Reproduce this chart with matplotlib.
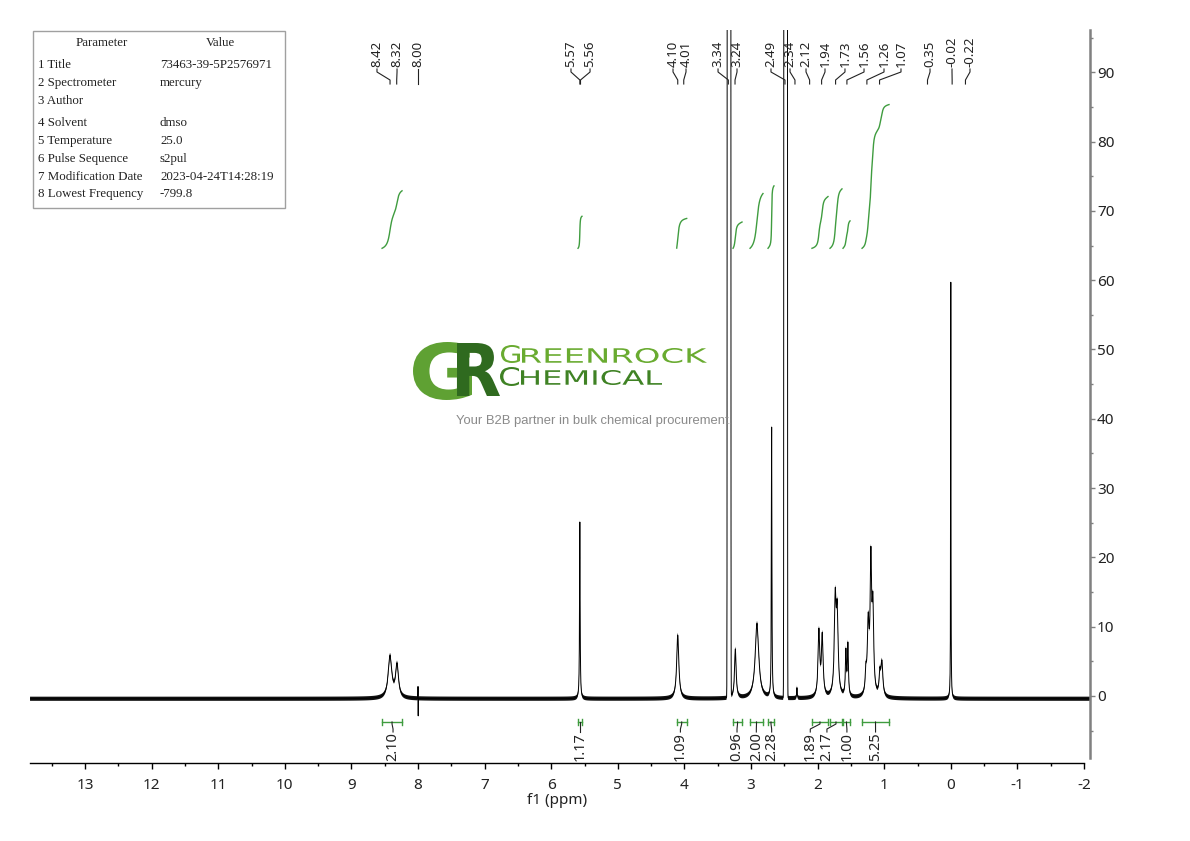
import numpy as np
import matplotlib
matplotlib.use("Agg")
import matplotlib.pyplot as plt
from matplotlib.textpath import TextPath
from matplotlib.patches import PathPatch, Rectangle
from matplotlib.font_manager import FontProperties
from matplotlib.transforms import Affine2D, blended_transform_factory
from matplotlib.ticker import MultipleLocator

plt.rcParams['axes.unicode_minus'] = False

# ---------------- data ----------------
# resolved signals: position (ppm), top value on the intensity scale, half width (ppm)
peak_ppm = [8.42, 8.315, 5.57, 4.10, 3.235, 2.91, 2.69, 2.31, 1.98, 1.93, 1.735, 1.705,
            1.575, 1.545, 1.275, 1.24, 1.20, 1.17, 1.065, 1.035, 0.00]
peak_top = [5.9, 4.8, 25.1, 8.8, 6.8, 10.5, 38.8, 1.2, 9.8, 9.2, 15.6, 13.9,
            6.9, 7.8, 4.9, 12.1, 21.6, 15.0, 4.2, 5.2, 59.7]
peak_hw = [0.032, 0.026, 0.005, 0.019, 0.014, 0.032, 0.0045, 0.005, 0.015, 0.015, 0.016, 0.016,
           0.009, 0.009, 0.011, 0.016, 0.013, 0.014, 0.013, 0.017, 0.0028]
# off-scale solvent signals (water, DMSO)
solvent_ppm = [3.33, 2.48]
solvent_top = [1.0e6, 1.0e6]
solvent_sigma = [0.0065, 0.0065]
# artefact spike near 8.00 ppm
spike_ppm = [8.000, 7.997]
spike_amp = [1.8, -2.6]
baseline_level = -0.4
noise_half = 0.3

# peak labels at the top
label_txt = ["8.42", "8.32", "8.00", "5.57", "5.56", "4.10", "4.01", "3.34", "3.24", "2.49",
             "2.34", "2.12", "1.94", "1.73", "1.56", "1.26", "1.07", "0.35", "-0.02", "-0.22"]
label_pos = [8.616, 8.315, 8.0, 5.703, 5.417, 4.171, 3.976, 3.495, 3.21, 2.70,
             2.414, 2.174, 1.889, 1.589, 1.303, 1.003, 0.748, 0.312, -0.018, -0.288]

# integrals
int_from = [8.540, 5.598, 4.116, 3.270, 3.015, 2.745, 2.085, 1.814, 1.619, 1.333]
int_to = [8.240, 5.538, 3.966, 3.135, 2.820, 2.655, 1.844, 1.634, 1.513, 0.928]
int_val = ["2.10", "1.17", "1.09", "0.96", "2.00", "2.28", "1.89", "2.17", "1.00", "5.25"]
int_label_pos = [8.375, 5.568, 4.06, 3.21, 2.92, 2.69, 2.11, 1.86, 1.56, 1.13]
int_base = 64.6
int_scale = 3.95

# parameter table
param_names = ["1 Title", "2 Spectrometer", "3 Author", "4 Solvent", "5 Temperature",
               "6 Pulse Sequence", "7 Modification Date", "8 Lowest Frequency"]
param_values = ["73463-39-5P2576971", "mercury", "", "dmso", "25.0", "s2pul",
                "2023-04-24T14:28:19", "-799.8"]

# axis ranges
x_left, x_right = 13.826, -2.09
y_bottom, y_top = -9.67, 96.1

# ---------------- build spectrum ----------------
ppm = np.arange(x_right, x_left, 0.0005)


def lor(x, c, w):
    return w ** 2 / ((x - c) ** 2 + w ** 2)


M = np.array([[lor(pi, pj, wj) for pj, wj in zip(peak_ppm, peak_hw)] for pi in peak_ppm])
amps = np.clip(np.linalg.solve(M, np.array(peak_top) - baseline_level), 0, None)

sig = np.zeros_like(ppm)
for c, a, w in zip(peak_ppm, amps, peak_hw):
    sig += a * lor(ppm, c, w)
solv = np.zeros_like(ppm)
for c, a, s in zip(solvent_ppm, solvent_top, solvent_sigma):
    solv += a * np.exp(-(ppm - c) ** 2 / (2 * s ** 2))
spk = np.zeros_like(ppm)
for c, a in zip(spike_ppm, spike_amp):
    spk += a * lor(ppm, c, 0.0006)
spec = sig + solv + spk + baseline_level

# ---------------- figure ----------------
W, H = 1190, 841
fig = plt.figure(figsize=(W / 100, H / 100), dpi=100, facecolor='white')
ax = fig.add_axes([30 / W, 1 - 763 / H, 1060 / W, 733 / H])
ax.set_facecolor('none')

ax.fill_between(ppm, spec - noise_half, spec + noise_half, color='#111111', lw=0)
ax.plot(ppm, spec, color='black', lw=0.7)

green = '#3f9c3f'
for a, b, v in zip(int_from, int_to, int_val):
    m = (ppm <= a) & (ppm >= b)
    xs = ppm[m][::-1]
    ys = sig[m][::-1]
    cum = np.cumsum(ys)
    cum = cum / cum[-1]
    ax.plot(xs, int_base + int_scale * float(v) * cum, color=green, lw=1.0)

ax.set_xlim(x_left, x_right)
ax.set_ylim(y_bottom, y_top)
for s in ['top', 'left']:
    ax.spines[s].set_visible(False)
ax.spines['bottom'].set_color('black')
ax.spines['bottom'].set_linewidth(1.0)
ax.spines['bottom'].set_bounds(13.826, -2)
ax.spines['right'].set_color('#808080')
ax.spines['right'].set_linewidth(1.8)
ax.spines['right'].set_bounds(-8.9, y_top)

ax.xaxis.set_major_locator(MultipleLocator(1))
ax.xaxis.set_minor_locator(MultipleLocator(0.5))
ax.yaxis.set_major_locator(MultipleLocator(10))
ax.yaxis.set_minor_locator(MultipleLocator(5))
ax.yaxis.tick_right()
ax.tick_params(axis='x', which='major', direction='out', length=4.5, width=1, color='black',
               pad=6, labelsize=11, labelcolor='#222222')
ax.tick_params(axis='x', which='minor', direction='out', length=2.5, width=1, color='black')
ax.tick_params(axis='y', which='major', direction='out', length=3.5, width=1, color='#808080',
               pad=1.5, labelsize=11, labelcolor='#222222', right=True, left=False)
ax.tick_params(axis='y', which='minor', direction='out', length=2, width=1, color='#808080',
               right=True, left=False)
ax.set_yticks([t for t in range(0, 100, 10)])
for lab in ax.get_xticklabels() + ax.get_yticklabels():
    lab.set_family('Noto Sans')

# ---------------- overlay in pixel coordinates ----------------
ov = fig.add_axes([0, 0, 1, 1])
ov.set_facecolor('none')
ov.axis('off')
ov.set_xlim(0, W)
ov.set_ylim(H, 0)
bt = blended_transform_factory(ax.transData, ov.transData)

ov.text(557, 800, "f1 (ppm)", ha='center', va='center', fontsize=11, family='Noto Sans',
        color='#222222')

# peak labels
for t, lp in zip(label_txt, label_pos):
    pk = float(t)
    ov.text(lp, 67, t, transform=bt, rotation=90, ha='center', va='bottom', fontsize=9.5,
            family='Noto Sans', color='#222222')
    ov.plot([lp, lp, pk, pk], [69, 72, 80, 84], transform=bt, color='#222222', lw=0.8)

# integral brackets
for a, b, v, lp in zip(int_from, int_to, int_val, int_label_pos):
    c = (a + b) / 2
    ov.plot([a, b], [722, 722], transform=bt, color=green, lw=1.0)
    ov.plot([a, a], [719, 725], transform=bt, color=green, lw=1.0)
    ov.plot([b, b], [719, 725], transform=bt, color=green, lw=1.0)
    ov.plot([c, c, lp, lp], [722, 724, 729, 732], transform=bt, color='#222222', lw=0.8)
    ov.text(lp, 732, v, transform=bt, rotation=90, ha='center', va='top', fontsize=10.5,
            family='Noto Sans', color='#222222')

# parameter table
ov.add_patch(Rectangle((33, 31), 252, 177, fill=False, ec='#a0a0a0', lw=1))
tfont = dict(family='Liberation Serif', fontsize=9.3, color='#222222', va='center')
ov.text(102, 43, "Parameter", ha='center', **tfont)
ov.text(220, 43, "Value", ha='center', **tfont)
row_y = [65, 83, 101, 123, 141, 159, 177, 194]
for yy, n, v in zip(row_y, param_names, param_values):
    ov.text(38, yy, n, ha='left', **tfont)
    ov.text(160, yy, v, ha='left', **tfont)


# logo (text drawn as stretched glyph outlines)
def fit_text(s, box, color, weight='bold', family='DejaVu Sans'):
    prop = FontProperties(family=family, weight=weight)
    tp = TextPath((0, 0), s, size=100, prop=prop)
    bb = tp.get_extents()
    l, t, r, b = box
    sx = (r - l) / bb.width
    sy = (b - t) / bb.height
    tr = Affine2D().translate(-bb.x0, -bb.y0).scale(sx, -sy).translate(l, b) + ov.transData
    ov.add_patch(PathPatch(tp, transform=tr, facecolor=color, edgecolor='none'))


fit_text("G", (413, 342, 472, 400), '#5fa133')
fit_text("R", (457, 343, 500, 396), '#2f6a1f')
fit_text("G", (501, 345, 520, 363), '#69ab30', weight='normal')
fit_text("REENROCK", (522, 348, 707, 363), '#69ab30', weight='normal')
fit_text("C", (500, 367, 519, 386), '#3f8224', weight='normal')
fit_text("HEMICAL", (521, 370, 662, 385), '#3f8224', weight='normal')
ov.text(456, 421, "Your B2B partner in bulk chemical procurement.", ha='left', va='center',
        fontsize=9.4, family='Liberation Sans', color='#8a8a8a')

fig.savefig('out.png', dpi=100, facecolor='white')
